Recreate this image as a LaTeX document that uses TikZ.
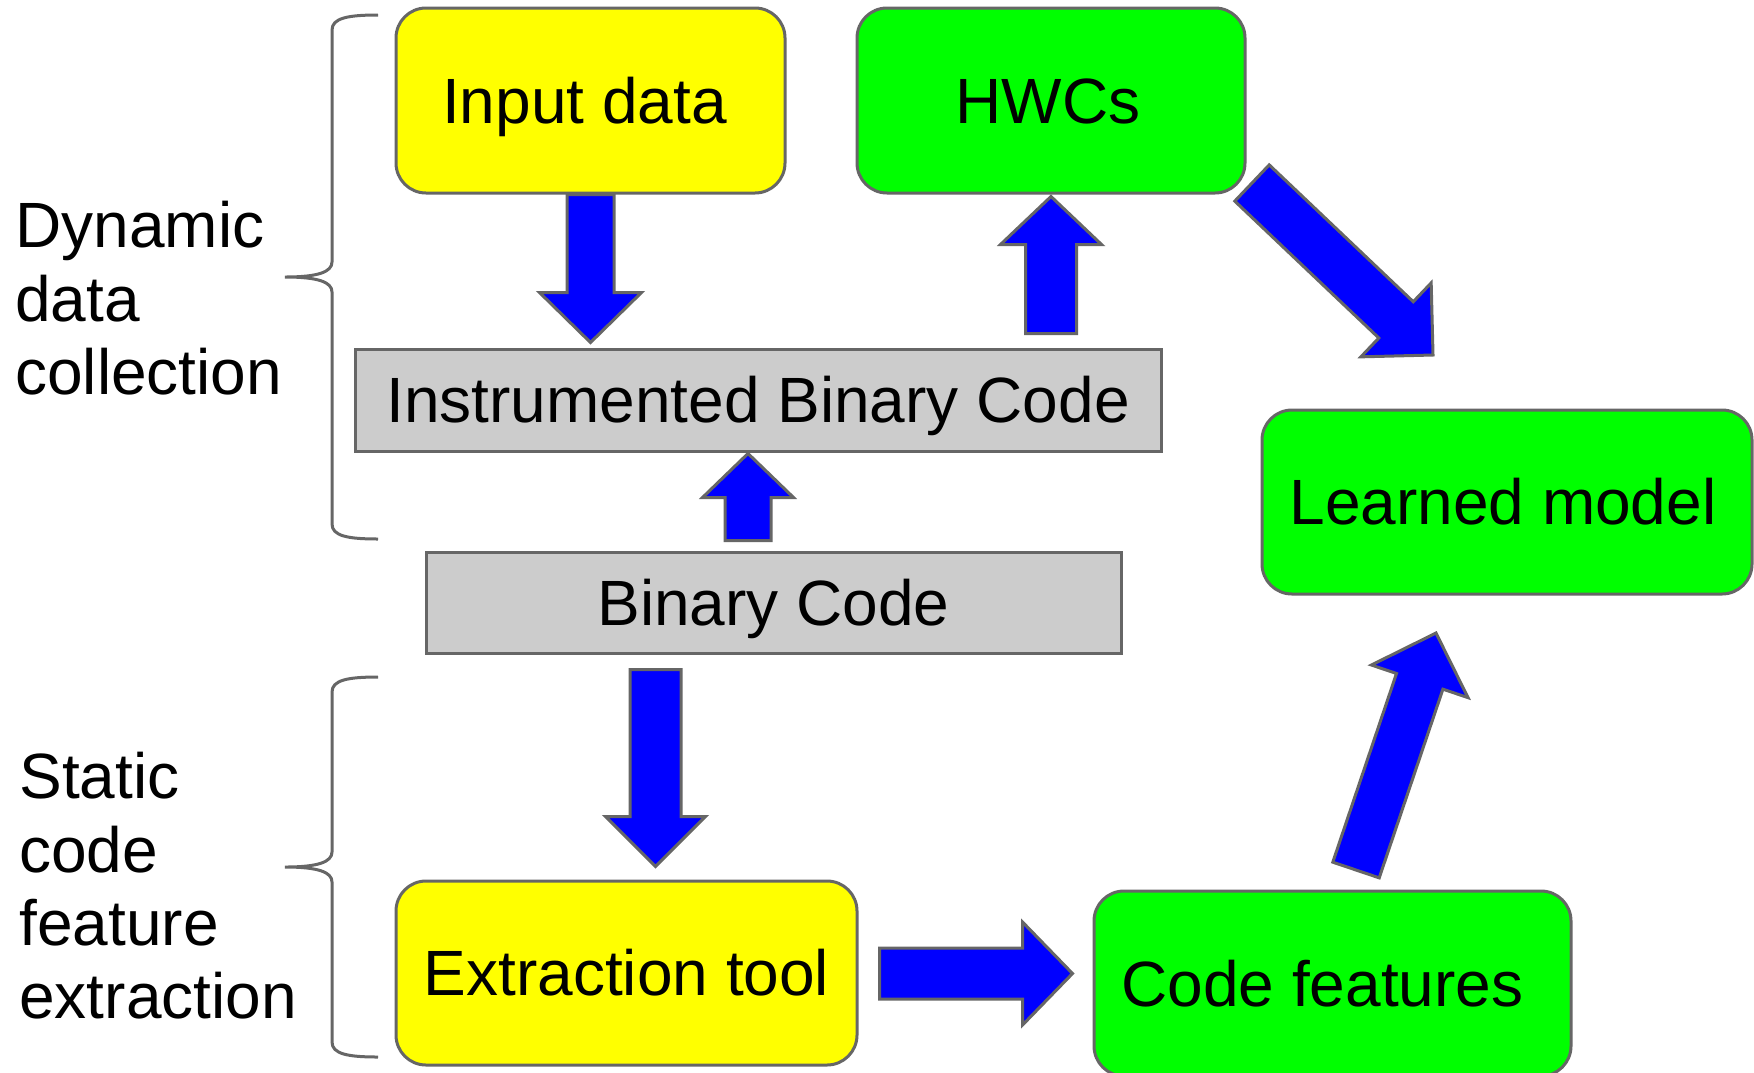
\documentclass[tikz,border=0pt]{standalone}
\usepackage{fontspec}
\setmainfont{Liberation Sans}
\usetikzlibrary{calc}

\definecolor{boxyellow}{HTML}{FFFF00}
\definecolor{boxgreen}{HTML}{00FF00}
\definecolor{boxgray}{HTML}{CCCCCC}
\definecolor{arrowblue}{HTML}{0000FF}
\definecolor{edgegray}{HTML}{666666}

% block arrow: #1 name, #2 tail, #3 tip, #4 half shaft width, #5 half head width, #6 head length
\newcommand{\fatarrow}[6]{%
  \coordinate (#1-base) at ($(#3)!#6!(#2)$);
  \draw[blockarrow]
    ($(#2)!#4!90:(#3)$) -- ($(#1-base)!#4!90:(#3)$) -- ($(#1-base)!#5!90:(#3)$)
    -- (#3)
    -- ($(#1-base)!#5!-90:(#3)$) -- ($(#1-base)!#4!-90:(#3)$) -- ($(#2)!#4!-90:(#3)$)
    -- cycle;
}

\begin{document}
\begin{tikzpicture}[x=0.5pt, y=-0.5pt,
  bigfont/.style={font=\fontsize{32pt}{36.7pt}\selectfont},
  box/.style={bigfont, draw=edgegray, line width=1.5pt, text height=22.9pt,
    text depth=0pt, inner sep=0pt, anchor=center},
  roundbox/.style={box, rounded corners=15pt},
  blockarrow/.style={draw=edgegray, fill=arrowblue, line width=1.5pt},
  bracket/.style={draw=edgegray, line width=1.5pt},
  sidelabel/.style={bigfont, align=left, inner sep=0pt, anchor=north west}]

\useasboundingbox (0,0) rectangle (1754,1072);
\clip (0,0) rectangle (1754,1072);
\fill[white] (0,0) rectangle (1754,1072);

% boxes (a trailing space moves some labels slightly left of centre)
\node[roundbox, fill=boxyellow, minimum width=194.5pt, minimum height=92.5pt] (inp) at (590.5,100.5) {Input data\hspace*{6pt}};
\node[roundbox, fill=boxgreen, minimum width=194pt, minimum height=92.5pt] (hwc) at (1051,100.5) {HWCs\hspace*{3pt}};
\node[box, fill=boxgray, minimum width=403pt, minimum height=51pt] (ibc) at (758,400) {Instrumented Binary Code};
\node[box, fill=boxgray, minimum width=347.5pt, minimum height=50.5pt] (bc) at (773.5,602.5) {Binary Code};
\node[roundbox, fill=boxgreen, minimum width=245pt, minimum height=92pt] (lm) at (1507,502) {Learned model\hspace*{4pt}};
\node[roundbox, fill=boxyellow, minimum width=230.5pt, minimum height=92pt] (ext) at (626.5,973) {Extraction tool};
\node[roundbox, fill=boxgreen, minimum width=238.5pt, minimum height=92.5pt] (cf) at (1332.5,983.5) {Code features\hspace*{10pt}};

% side labels
\node[sidelabel] (dyn) at (15,201) {Dynamic\\data\\collection};
\node[sidelabel] (sta) at (19,752) {Static\\code\\feature\\extraction};

% braces
\draw[bracket] (378,15) .. controls (348,15) and (332,18) .. (332,30) -- (332,262)
  .. controls (332,272) and (318,277) .. (285,277)
  .. controls (318,277) and (332,282) .. (332,292) -- (332,524)
  .. controls (332,536) and (348,539) .. (378,539);
\draw[bracket] (378,677) .. controls (348,677) and (332,680) .. (332,692) -- (332,852)
  .. controls (332,862) and (318,867) .. (285,867)
  .. controls (318,867) and (332,872) .. (332,882) -- (332,1042)
  .. controls (332,1054) and (348,1057) .. (378,1057);

% arrow end points
\coordinate (a1s) at (inp.south);
\coordinate (a1e) at ($(inp.south |- ibc.north)+(0,-5)$);
\coordinate (a2s) at ($(bc.north)+(-25.5,-10)$);
\coordinate (a2e) at ($(ibc.south)+(-10,1)$);
\coordinate (a3s) at ($(hwc.south |- ibc.north)+(0,-14)$);
\coordinate (a3e) at ($(hwc.south)+(0,2)$);
\coordinate (a4s) at (1252,183);
\coordinate (a4e) at (1433,355);
\coordinate (a5s) at ($(bc.south)+(-118,15)$);
\coordinate (a5e) at ($(ext.north)+(29,-13)$);
\coordinate (a6s) at ($(ext.east)+(21,0.5)$);
\coordinate (a6e) at ($(cf.west |- ext.east)+(-20,0.5)$);
\coordinate (a7s) at (1356,870);
\coordinate (a7e) at (1436,633);

% block arrows
\fatarrow{a1}{a1s}{a1e}{11.75pt}{25.5pt}{25pt}
\fatarrow{a2}{a2s}{a2e}{11.5pt}{22.75pt}{22pt}
\fatarrow{a3}{a3s}{a3e}{12.75pt}{25.25pt}{24pt}
\fatarrow{a4}{a4s}{a4e}{12.5pt}{25.5pt}{25.5pt}
\fatarrow{a5}{a5s}{a5e}{12.75pt}{25pt}{25pt}
\fatarrow{a6}{a6s}{a6e}{12.75pt}{25.75pt}{25pt}
\fatarrow{a7}{a7s}{a7e}{12.25pt}{25.5pt}{25.5pt}

\end{tikzpicture}
\end{document}
